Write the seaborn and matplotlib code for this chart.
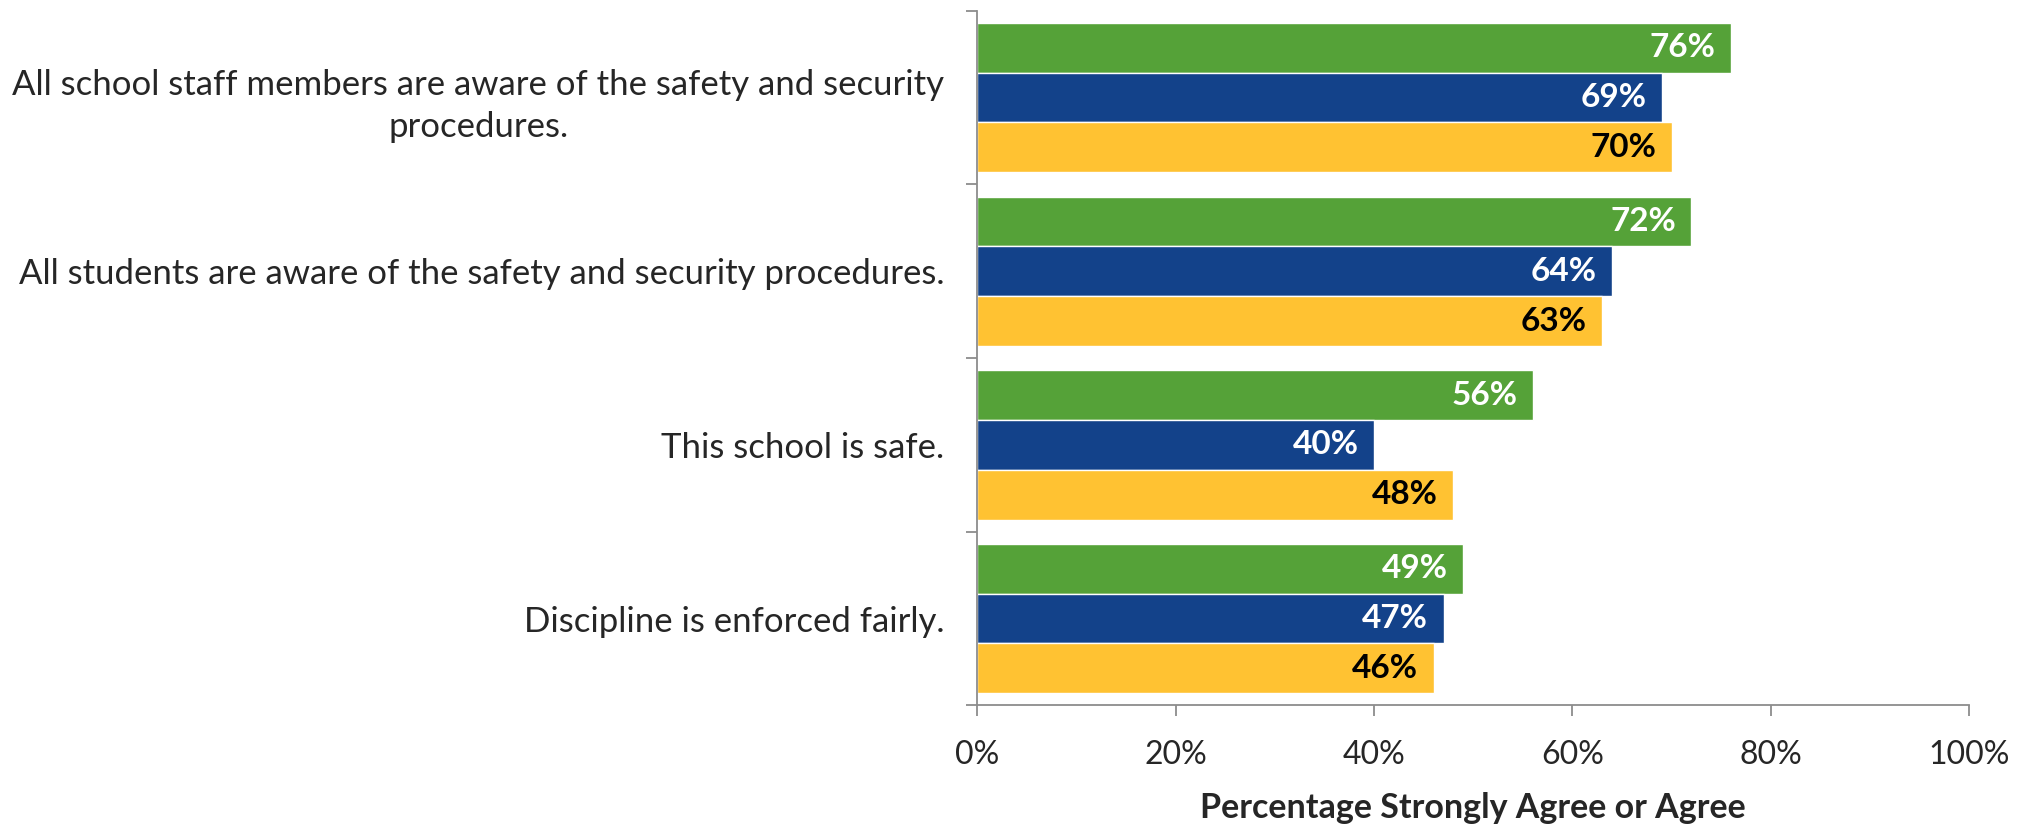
import matplotlib
matplotlib.use('Agg')
import numpy as np
import pandas as pd
import matplotlib.pyplot as plt
import seaborn as sns

# Data
statements = [
    'All school staff members are aware of the safety and security\nprocedures.',
    'All students are aware of the safety and security procedures.',
    'This school is safe.',
    'Discipline is enforced fairly.',
]
groups = ['Series 1', 'Series 2', 'Series 3']
series_1 = [76, 72, 56, 49]
series_2 = [69, 64, 40, 47]
series_3 = [70, 63, 48, 46]
x_ticks = [0, 20, 40, 60, 80, 100]
x_title = 'Percentage Strongly Agree or Agree'

colors = ['#55A238', '#13428A', '#FFC232']
label_colors = ['white', 'white', 'black']

df = pd.DataFrame({
    'statement': statements * 3,
    'group': np.repeat(groups, len(statements)),
    'value': series_1 + series_2 + series_3,
})

sns.set_theme(style='ticks')
plt.rcParams['font.family'] = ['Lato', 'DejaVu Sans']

fig, ax = plt.subplots(figsize=(20.3, 8.27), dpi=100)
fig.subplots_adjust(left=0.4815, right=0.970, top=0.987, bottom=0.147)

sns.barplot(data=df, x='value', y='statement', hue='group',
            order=statements, hue_order=groups, palette=colors,
            orient='h', width=0.86, saturation=1, legend=False,
            edgecolor='white', linewidth=1, ax=ax)

# value labels inside bar ends
for cont, tc in zip(ax.containers, label_colors):
    for bar in cont:
        w = bar.get_width()
        yc = bar.get_y() + bar.get_height() / 2
        ax.annotate(f'{w:.0f}%', (w, yc), xytext=(-11, 0),
                    textcoords='offset points', ha='right', va='center',
                    fontsize=24, fontweight='bold', color=tc)

ax.set_xlim(0, 100)
ax.set_ylim(len(statements) - 0.5, -0.5)
ax.set_xticks(x_ticks)
ax.set_xticklabels([f'{t}%' for t in x_ticks])
ax.set_xlabel(x_title, fontsize=24.5, fontweight='bold', labelpad=16)
ax.set_ylabel('')

ax.tick_params(axis='x', labelsize=23, length=8, width=1.3, color='#8c8c8c',
               pad=17, direction='out')
ax.tick_params(axis='y', which='major', length=0, pad=24, labelsize=25)
for lab in ax.get_yticklabels():
    lab.set_multialignment('center')
    lab.set_linespacing(1.4)
ax.set_yticks(np.arange(len(statements) + 1) - 0.5, minor=True)
ax.tick_params(axis='y', which='minor', length=8, width=1.3, color='#8c8c8c')

for s in ['top', 'right']:
    ax.spines[s].set_visible(False)
for s in ['left', 'bottom']:
    ax.spines[s].set_color('#8c8c8c')
    ax.spines[s].set_linewidth(1.3)

fig.savefig('out.png', dpi=100, facecolor='white')
